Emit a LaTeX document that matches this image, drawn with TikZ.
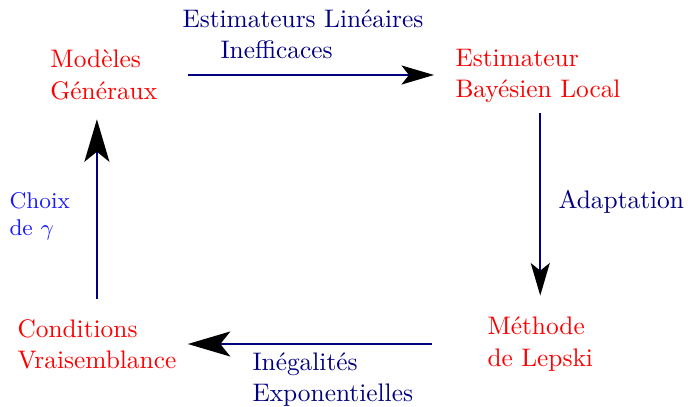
\documentclass[tikz,border=0pt]{standalone}
\usepackage{tikz}
\usetikzlibrary{arrows.meta,calc}
\definecolor{Navy}{HTML}{000080}
\definecolor{TermRed}{HTML}{FF0000}
\definecolor{ChoixBlue}{HTML}{1A1AFF}

\begin{document}
\begin{tikzpicture}[
    x=0.4pt, y=-0.4pt,
    font=\fontsize{10.15pt}{12.5pt}\selectfont,
    term/.style={text=TermRed, align=left, inner sep=0pt, anchor=west},
    lab/.style={text=Navy, align=left, inner sep=0pt, anchor=west},
    arrow/.style={-{Stealth[length=13pt, width=7.6pt, inset=3pt, color=black]}, line width=0.9pt, draw=Navy},
    bigarrow/.style={-{Stealth[length=17pt, width=10pt, inset=4pt, color=black]}, line width=0.9pt, draw=Navy}
]
\useasboundingbox (0,0) rectangle (688,407);

\node[term] (gen) at (50,75) {Modèles\\Généraux};
\node[term] (bayes) at (455,76) {Estimateur\\Bayésien Local};
\node[term] (lepski) at (487,344) {Méthode\\de Lepski};
\node[term] (cond) at (17,344) {Conditions\\Vraisemblance};

\node[lab] (ineff) at (182,34) {Estimateurs Linéaires\\\hspace*{15.2pt}Inefficaces};
\node[lab] (adapt) at (558,202) {Adaptation};
\node[lab] (expo) at (252,379.5) {Inégalités\\Exponentielles};
\node[lab, text=ChoixBlue, font=\fontsize{9.1pt}{10.9pt}\selectfont] (choix) at (9,216) {Choix\\de $\gamma$};

\draw[arrow, shorten <=12pt, shorten >=8.4pt] (gen.east) -- (gen.east -| bayes.west);
\draw[arrow, shorten <=4pt, shorten >=8.4pt] (lepski.north |- bayes.south) -- (lepski.north);
\draw[bigarrow, shorten <=22pt, shorten >=4.4pt] (lepski.west) -- (lepski.west -| cond.east);
\draw[bigarrow, shorten <=8pt, shorten >=7.6pt] (cond.north) -- (cond.north |- gen.south);
\end{tikzpicture}
\end{document}
